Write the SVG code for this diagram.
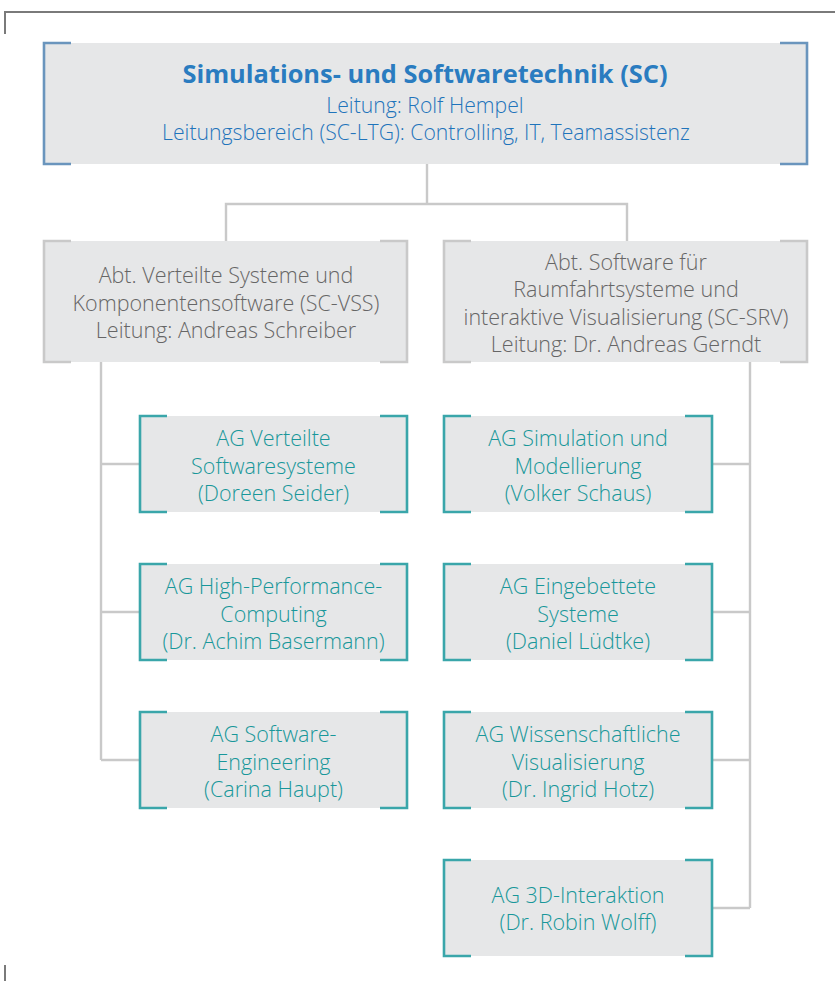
<svg xmlns="http://www.w3.org/2000/svg" width="835" height="981" viewBox="0 0 835 981">
  <style>
    .box { fill: #e6e7e8; }
    .br { fill: none; stroke-width: 2.6; }
    .br-sc { stroke: #6a95bd; }
    .br-abt { stroke: #c9c9c9; }
    .br-ag { stroke: #3aa6aa; }
    .link { fill: none; stroke: #c9c9c9; stroke-width: 2.4; }
    .frame { fill: none; stroke: #7a7a7a; stroke-width: 2; }
    text { font-family: "Open Sans", "Noto Sans", "Liberation Sans", sans-serif; font-size: 21.5px; font-weight: 300; text-anchor: middle; }
    .t-sc { fill: #1f74bb; font-size: 21.2px; }
    .t-title { fill: #2a7cc0; font-weight: bold; font-size: 25.4px; }
    .t-abt { fill: #666666; }
    .t-ag { fill: #18979a; }
  </style>

  <!-- page frame marks -->
  <path class="frame" d="M5,34 V12 H835"/>
  <path class="frame" d="M5,965 V981"/>

  <!-- connectors -->
  <g id="connectors">
    <path class="link" d="M427,164 V204 M226,241 V204 H627 V241"/>
    <path class="link" d="M101,362 V760 M101,464 H140 M101,612 H140 M101,760 H140"/>
    <path class="link" d="M750,362 V908 M712,464 H750 M712,612 H750 M712,760 H750 M712,908 H750"/>
  </g>

  <!-- institute -->
  <g id="sc">
    <rect class="box" x="44" y="43" width="763" height="121"/>
    <path class="br br-sc" d="M71,43 H44 V164 H71 M780,43 H807 V164 H780"/>
    <text class="t-sc t-title" x="425" y="83">Simulations- und Softwaretechnik (SC)</text>
    <text class="t-sc" x="425" y="113">Leitung: Rolf Hempel</text>
    <text class="t-sc" x="426" y="140">Leitungsbereich (SC-LTG): Controlling, IT, Teamassistenz</text>
  </g>

  <!-- departments -->
  <g id="sc-vss">
    <rect class="box" x="44" y="241" width="363" height="121"/>
    <path class="br br-abt" d="M71,241 H44 V362 H71 M380,241 H407 V362 H380"/>
    <text class="t-abt" x="226" y="283">Abt. Verteilte Systeme und</text>
    <text class="t-abt" x="226" y="311">Komponentensoftware (SC-VSS)</text>
    <text class="t-abt" x="226" y="338">Leitung: Andreas Schreiber</text>
  </g>
  <g id="sc-srv">
    <rect class="box" x="444" y="241" width="363" height="121"/>
    <path class="br br-abt" d="M471,241 H444 V362 H471 M780,241 H807 V362 H780"/>
    <text class="t-abt" x="626" y="270">Abt. Software für</text>
    <text class="t-abt" x="626" y="297">Raumfahrtsysteme und</text>
    <text class="t-abt" x="626" y="325">interaktive Visualisierung (SC-SRV)</text>
    <text class="t-abt" x="626" y="352">Leitung: Dr. Andreas Gerndt</text>
  </g>

  <!-- working groups, SC-VSS -->
  <g id="ag-vss">
    <rect class="box" x="140" y="416" width="267" height="96"/>
    <path class="br br-ag" d="M167,416 H140 V512 H167 M380,416 H407 V512 H380"/>
    <text class="t-ag" x="273.5" y="446">AG Verteilte</text>
    <text class="t-ag" x="273.5" y="474">Softwaresysteme</text>
    <text class="t-ag" x="273.5" y="501">(Doreen Seider)</text>
  </g>
  <g id="ag-hpc">
    <rect class="box" x="140" y="564" width="267" height="96"/>
    <path class="br br-ag" d="M167,564 H140 V660 H167 M380,564 H407 V660 H380"/>
    <text class="t-ag" x="273.5" y="594">AG High-Performance-</text>
    <text class="t-ag" x="273.5" y="622">Computing</text>
    <text class="t-ag" x="273.5" y="649">(Dr. Achim Basermann)</text>
  </g>
  <g id="ag-se">
    <rect class="box" x="140" y="712" width="267" height="96"/>
    <path class="br br-ag" d="M167,712 H140 V808 H167 M380,712 H407 V808 H380"/>
    <text class="t-ag" x="273.5" y="742">AG Software-</text>
    <text class="t-ag" x="273.5" y="770">Engineering</text>
    <text class="t-ag" x="273.5" y="797">(Carina Haupt)</text>
  </g>

  <!-- working groups, SC-SRV -->
  <g id="ag-sim">
    <rect class="box" x="444" y="416" width="268" height="96"/>
    <path class="br br-ag" d="M471,416 H444 V512 H471 M685,416 H712 V512 H685"/>
    <text class="t-ag" x="578" y="446">AG Simulation und</text>
    <text class="t-ag" x="578" y="474">Modellierung</text>
    <text class="t-ag" x="578" y="501">(Volker Schaus)</text>
  </g>
  <g id="ag-es">
    <rect class="box" x="444" y="564" width="268" height="96"/>
    <path class="br br-ag" d="M471,564 H444 V660 H471 M685,564 H712 V660 H685"/>
    <text class="t-ag" x="578" y="594">AG Eingebettete</text>
    <text class="t-ag" x="578" y="622">Systeme</text>
    <text class="t-ag" x="578" y="649">(Daniel Lüdtke)</text>
  </g>
  <g id="ag-vis">
    <rect class="box" x="444" y="712" width="268" height="96"/>
    <path class="br br-ag" d="M471,712 H444 V808 H471 M685,712 H712 V808 H685"/>
    <text class="t-ag" x="578" y="742">AG Wissenschaftliche</text>
    <text class="t-ag" x="578" y="770">Visualisierung</text>
    <text class="t-ag" x="578" y="797">(Dr. Ingrid Hotz)</text>
  </g>
  <g id="ag-3d">
    <rect class="box" x="444" y="860" width="268" height="96"/>
    <path class="br br-ag" d="M471,860 H444 V956 H471 M685,860 H712 V956 H685"/>
    <text class="t-ag" x="578" y="903">AG 3D-Interaktion</text>
    <text class="t-ag" x="578" y="930">(Dr. Robin Wolff)</text>
  </g>
</svg>
